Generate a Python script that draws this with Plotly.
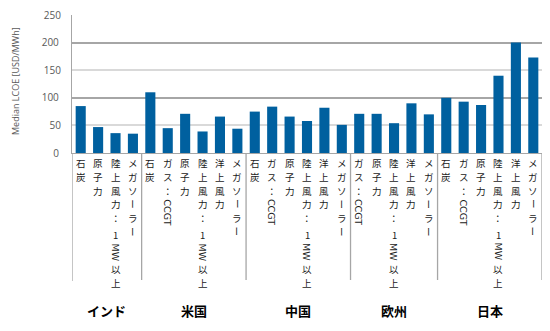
import plotly.graph_objects as go

# ---------------- data ----------------
groups = ["インド", "米国", "中国", "欧州", "日本"]
techs_india = ["石炭", "原子力", "陸上風力：1MW以上", "メガソーラー"]
techs_us = ["石炭", "ガス：CCGT", "原子力", "陸上風力：1MW以上", "洋上風力", "メガソーラー"]
techs_china = ["石炭", "ガス：CCGT", "原子力", "陸上風力：1MW以上", "洋上風力", "メガソーラー"]
techs_europe = ["ガス：CCGT", "原子力", "陸上風力：1MW以上", "洋上風力", "メガソーラー"]
techs_japan = ["石炭", "ガス：CCGT", "原子力", "陸上風力：1MW以上", "洋上風力", "メガソーラー"]

lcoe_india = [85, 47, 36, 35]
lcoe_us = [110, 45, 71, 39, 66, 44]
lcoe_china = [75, 84, 66, 58, 82, 51]
lcoe_europe = [71, 71, 54, 90, 70]
lcoe_japan = [100, 93, 87, 140, 200, 173]

y_title = "Median LCOE [USD/MWh]"
y_ticks_major = [0, 100, 200]
y_ticks_minor = [50, 150, 250]

# ---------------- build ----------------
group_techs = [techs_india, techs_us, techs_china, techs_europe, techs_japan]
group_vals = [lcoe_india, lcoe_us, lcoe_china, lcoe_europe, lcoe_japan]

labels, values, group_ranges = [], [], []
for t, v in zip(group_techs, group_vals):
    start = len(labels)
    labels += t
    values += v
    group_ranges.append((start, len(labels) - 1))
xs = list(range(len(labels)))

BAR = "#00609f"
GRID_LIGHT = "#d9d9d9"
GRID_DARK = "#a6a6a6"
AXIS = "#a6a6a6"
TXT = "#595959"
LBL = "#1a1a1a"
CJK = "Noto Sans CJK JP"
LAT = "DejaVu Sans"

fig = go.Figure()
fig.add_trace(go.Bar(x=xs, y=values, marker=dict(color=BAR, line=dict(width=0)),
                     width=0.58, showlegend=False, hoverinfo="skip"))
fig.add_trace(go.Scatter(x=[], y=[], yaxis="y2", showlegend=False))

# ---- vertical (tategaki-style) category labels, one glyph per annotation ----
FS = 9.5
PITCH = 13.8
LAT_W = {"C": 6.6, "G": 7.4, "T": 5.8, "M": 8.2, "W": 9.4}
START = 3.0               # px below the axis line
annotations = []


def tokens(label):
    out = []
    i = 0
    while i < len(label):
        ch = label[i]
        if ch.isascii() and ch.isalpha():
            j = i
            while j < len(label) and label[j].isascii() and label[j].isalpha():
                j += 1
            out.append(("lat", label[i:j]))
            i = j
            continue
        if ch.isdigit():
            out.append(("digit", ch))
        elif ch == "ー":
            out.append(("rot", ch))
        else:
            out.append(("up", ch))
        i += 1
    return out


for x, lab in zip(xs, labels):
    cum = START
    for kind, text in tokens(lab):
        ang, fam = 0, CJK
        if kind == "lat":
            cum += 1.5
            adv = sum(LAT_W.get(c, 7) for c in text)
            ang, fam = 90, LAT
        elif kind == "digit":
            cum += 3
            adv = PITCH
        elif kind == "rot":
            adv = PITCH
            ang = 90
        else:
            adv = PITCH
        annotations.append(dict(
            x=x, xref="x", y=0, yref="paper", yshift=-(cum + adv / 2),
            text=text, showarrow=False, xanchor="center", yanchor="middle",
            textangle=ang, borderpad=0,
            font=dict(family=fam, size=FS, color=LBL)))
        cum += adv
        if kind == "lat":
            cum += 1.5

# group labels
for g, (a, b) in zip(groups, group_ranges):
    annotations.append(dict(
        x=(a + b) / 2, xref="x", y=0, yref="paper", yshift=-157,
        text="<b>" + g + "</b>", showarrow=False, xanchor="center", yanchor="middle",
        font=dict(family=CJK, size=13, color="#000000")))

# y title
annotations.append(dict(
    x=0, xref="paper", xshift=-57, y=0.5, yref="paper", yshift=3,
    text=y_title, showarrow=False, textangle=-90, xanchor="center", yanchor="middle",
    font=dict(family="Open Sans", size=9, color=TXT)))

# group separators in label area
shapes = []
bounds = [group_ranges[0][0] - 0.5] + [b + 0.5 for (_, b) in group_ranges]
for k, bx in enumerate(bounds):
    shapes.append(dict(type="line", xref="x", yref="paper", ysizemode="pixel", yanchor=0,
                       x0=bx, x1=bx, y0=0, y1=-128 if k == 0 else -127,
                       line=dict(color=AXIS, width=1.3)))

fig.update_layout(
    width=550, height=331,
    margin=dict(l=72, r=8, t=15, b=178),
    paper_bgcolor="white", plot_bgcolor="white",
    bargap=0.42,
    xaxis=dict(range=[-0.5, len(labels) - 0.5], showticklabels=False, showgrid=False,
               zeroline=False, showline=True, linecolor=AXIS, linewidth=1.3, ticks=""),
    yaxis=dict(range=[0, 250], tickvals=y_ticks_major, showgrid=True, gridcolor=GRID_DARK,
               gridwidth=1.5, zeroline=False, showline=True, linecolor=AXIS, linewidth=1.3,
               ticks="", ticklabelstandoff=10,
               tickfont=dict(family="Open Sans", size=10, color=TXT)),
    yaxis2=dict(range=[0, 250], overlaying="y", side="left", tickvals=y_ticks_minor,
                showgrid=True, gridcolor=GRID_LIGHT, gridwidth=1.5, zeroline=False,
                showline=False, ticks="", ticklabelstandoff=10,
                tickfont=dict(family="Open Sans", size=10, color=TXT)),
    annotations=annotations,
    shapes=shapes,
)

fig.write_html("out.html")
